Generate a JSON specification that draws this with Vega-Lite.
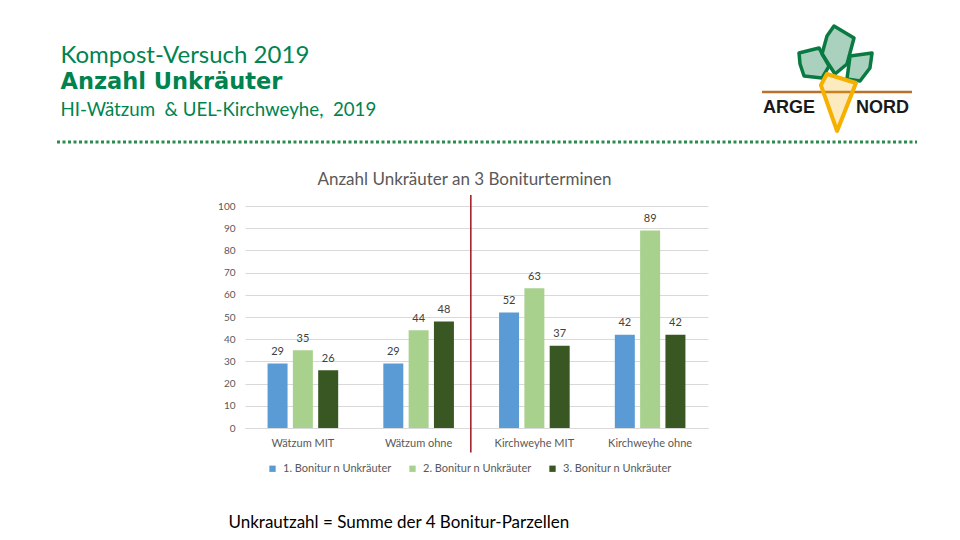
{
  "$schema": "https://vega.github.io/schema/vega-lite/v6.json",
  "background": "white",
  "padding": {"left": 55, "top": 24, "right": 45, "bottom": 10},
  "config": {
    "font": "Lato",
    "view": {"stroke": null},
    "title": {"font": "Lato", "fontWeight": "normal"},
    "axisY": {"tickCount": 11, "labelOverlap": false}
  },
  "title": {
    "text": "Kompost-Versuch 2019",
    "subtitle": "Anzahl Unkräuter",
    "anchor": "start",
    "frame": "bounds",
    "dx": 5,
    "offset": -69,
    "font": "Lato",
    "fontSize": 24,
    "fontWeight": "normal",
    "color": "#00834F",
    "subtitleFont": "DejaVu Sans",
    "subtitleFontSize": 22.5,
    "subtitleFontWeight": "bold",
    "subtitleColor": "#00834F",
    "subtitlePadding": 3
  },
  "bounds": "flush",
  "spacing": 63,
  "vconcat": [
    {
      "width": 672,
      "height": 20,
      "title": {
        "text": "HI-Wätzum\u00a0 & UEL-Kirchweyhe,\u00a0 2019",
        "anchor": "start",
        "frame": "bounds",
        "dx": 5,
        "offset": -95,
        "fontSize": 18.7,
        "color": "#00834F",
        "fontWeight": "normal"
      },
      "data": {"values": [{}]},
      "layer": [
        {
          "mark": {"type": "rule", "strokeDash": [3, 2.5], "strokeWidth": 3, "color": "#2B8A4E"},
          "encoding": {
            "x": {"datum": 55, "type": "quantitative", "scale": {"domain": [243, 915], "nice": false, "zero": false}, "axis": null},
            "x2": {"datum": 915},
            "y": {"datum": 141, "type": "quantitative", "scale": {"domain": [142, 122], "nice": false, "zero": false}, "axis": null}
          }
        },
        {
          "mark": {"type": "rule", "strokeWidth": 2.5, "color": "#B8722C"},
          "encoding": {
            "x": {"datum": 760, "type": "quantitative", "axis": null},
            "x2": {"datum": 910},
            "y": {"datum": 91, "type": "quantitative", "axis": null}
          }
        },
        {
          "mark": {"type": "point", "shape": "M-0.875,-0.625L0.375,-0.94L1,0.19L0.56,0.94L-0.56,0.81L-0.81,0.06Z", "filled": true, "opacity": 1, "fill": "#0A7A43", "fillOpacity": 0.35, "stroke": "#0A7A43", "strokeWidth": 3.5, "strokeJoin": "round", "size": 1024},
          "encoding": {
            "x": {"datum": 811, "type": "quantitative", "axis": null},
            "y": {"datum": 62, "type": "quantitative", "axis": null}
          }
        },
        {
          "mark": {"type": "point", "shape": "M-0.16,-0.96L0.64,-0.48L0.36,0.56L-0.12,0.96L-0.64,0.16L-0.44,-0.56Z", "filled": true, "opacity": 1, "fill": "#0A7A43", "fillOpacity": 0.35, "stroke": "#0A7A43", "strokeWidth": 3.5, "strokeJoin": "round", "size": 2500},
          "encoding": {
            "x": {"datum": 836, "type": "quantitative", "axis": null},
            "y": {"datum": 49, "type": "quantitative", "axis": null}
          }
        },
        {
          "mark": {"type": "point", "shape": "M-0.71,-0.79L0.86,-1L0.71,0.07L0,1L-0.93,0.86Z", "filled": true, "opacity": 1, "fill": "#0A7A43", "fillOpacity": 0.35, "stroke": "#0A7A43", "strokeWidth": 3.5, "strokeJoin": "round", "size": 784},
          "encoding": {
            "x": {"datum": 858, "type": "quantitative", "axis": null},
            "y": {"datum": 66, "type": "quantitative", "axis": null}
          }
        },
        {
          "mark": {"type": "point", "shape": "M-0.37,-0.9L0.6,-0.6L-0.03,1L-0.57,-0.53Z", "filled": true, "opacity": 1, "fill": "#F5B000", "fillOpacity": 0.25, "stroke": "#F5B000", "strokeWidth": 4, "strokeJoin": "round", "size": 3600},
          "encoding": {
            "x": {"datum": 836, "type": "quantitative", "axis": null},
            "y": {"datum": 100, "type": "quantitative", "axis": null}
          }
        },
        {
          "mark": {"type": "text", "font": "Liberation Sans", "fontWeight": "bold", "fontSize": 18, "align": "left", "baseline": "alphabetic", "color": "#1A1A1A"},
          "encoding": {
            "x": {"datum": 761, "type": "quantitative", "axis": null},
            "y": {"datum": 112, "type": "quantitative", "axis": null},
            "text": {"value": "ARGE"}
          }
        },
        {
          "mark": {"type": "text", "font": "Liberation Sans", "fontWeight": "bold", "fontSize": 18, "align": "left", "baseline": "alphabetic", "color": "#1A1A1A"},
          "encoding": {
            "x": {"datum": 854, "type": "quantitative", "axis": null},
            "y": {"datum": 112, "type": "quantitative", "axis": null},
            "text": {"value": "NORD"}
          }
        }
      ]
    },
    {
      "width": 463,
      "height": 222,
      "title": {
        "text": "Anzahl Unkräuter an 3 Boniturterminen",
        "anchor": "middle",
        "dx": -12,
        "offset": 5,
        "fontSize": 17,
        "color": "#595959",
        "fontWeight": "normal"
      },
      "data": {
        "values": [
          {"Standort": "Wätzum MIT", "Bonitur": "1. Bonitur n Unkräuter", "n": 29},
          {"Standort": "Wätzum MIT", "Bonitur": "2. Bonitur n Unkräuter", "n": 35},
          {"Standort": "Wätzum MIT", "Bonitur": "3. Bonitur n Unkräuter", "n": 26},
          {"Standort": "Wätzum ohne", "Bonitur": "1. Bonitur n Unkräuter", "n": 29},
          {"Standort": "Wätzum ohne", "Bonitur": "2. Bonitur n Unkräuter", "n": 44},
          {"Standort": "Wätzum ohne", "Bonitur": "3. Bonitur n Unkräuter", "n": 48},
          {"Standort": "Kirchweyhe MIT", "Bonitur": "1. Bonitur n Unkräuter", "n": 52},
          {"Standort": "Kirchweyhe MIT", "Bonitur": "2. Bonitur n Unkräuter", "n": 63},
          {"Standort": "Kirchweyhe MIT", "Bonitur": "3. Bonitur n Unkräuter", "n": 37},
          {"Standort": "Kirchweyhe ohne", "Bonitur": "1. Bonitur n Unkräuter", "n": 42},
          {"Standort": "Kirchweyhe ohne", "Bonitur": "2. Bonitur n Unkräuter", "n": 89},
          {"Standort": "Kirchweyhe ohne", "Bonitur": "3. Bonitur n Unkräuter", "n": 42}
        ]
      },
      "layer": [
        {
          "mark": {"type": "bar"},
          "encoding": {
            "x": {
              "field": "Standort",
              "type": "nominal",
              "scale": {"domain": ["Wätzum MIT", "Wätzum ohne", "Kirchweyhe MIT", "Kirchweyhe ohne"], "paddingInner": 0.39, "paddingOuter": 0.195},
              "axis": {
                "title": "Unkrautzahl = Summe der 4 Bonitur-Parzellen",
                "titleX": -17,
                "titleY": 99,
                "titleAlign": "left",
                "titleBaseline": "alphabetic",
                "titleFont": "Lato",
                "titleFontSize": 17,
                "titleFontWeight": "normal",
                "titleColor": "#000000",
                "labelAngle": 0,
                "labelFontSize": 11,
                "labelColor": "#595959",
                "labelPadding": 9,
                "ticks": false,
                "domainColor": "#D9D9D9",
                "grid": false
              }
            },
            "xOffset": {"field": "Bonitur", "type": "nominal", "scale": {"paddingInner": 0.21, "paddingOuter": 0}},
            "y": {
              "field": "n",
              "type": "quantitative",
              "scale": {"domain": [0, 100], "nice": false},
              "axis": {
                "title": null,
                "values": [0, 10, 20, 30, 40, 50, 60, 70, 80, 90, 100],
                "tickCount": 11,
                "labelOverlap": false,
                "grid": true,
                "gridColor": "#D9D9D9",
                "domain": false,
                "ticks": false,
                "labelFontSize": 10,
                "labelColor": "#595959",
                "labelPadding": 10
              }
            },
            "color": {
              "field": "Bonitur",
              "type": "nominal",
              "scale": {"range": ["#5B9BD5", "#A9D18E", "#385723"]},
              "legend": {
                "title": null,
                "orient": "none",
                "direction": "horizontal",
                "legendX": 22,
                "legendY": 340,
                "padding": 0,
                "symbolType": "square",
                "symbolSize": 40,
                "symbolStrokeWidth": 0,
                "labelFontSize": 11,
                "labelColor": "#595959",
                "labelOffset": 5,
                "columnPadding": 15
              }
            }
          }
        },
        {
          "mark": {"type": "text", "baseline": "alphabetic", "dy": -8.5, "fontSize": 11, "color": "#404040"},
          "encoding": {
            "x": {"field": "Standort", "type": "nominal"},
            "xOffset": {"field": "Bonitur", "type": "nominal"},
            "y": {
              "field": "n",
              "type": "quantitative",
              "axis": {
                "title": null,
                "values": [0, 10, 20, 30, 40, 50, 60, 70, 80, 90, 100],
                "tickCount": 11,
                "labelOverlap": false,
                "grid": true,
                "gridColor": "#D9D9D9",
                "domain": false,
                "ticks": false,
                "labelFontSize": 10,
                "labelColor": "#595959",
                "labelPadding": 10
              }
            },
            "text": {"field": "n", "type": "quantitative"}
          }
        },
        {
          "data": {"values": [{}]},
          "mark": {"type": "rule", "color": "#A0141E", "strokeWidth": 1.5},
          "encoding": {
            "x": {"datum": "Kirchweyhe MIT", "bandPosition": -0.4},
            "y": {
              "datum": 105,
              "type": "quantitative",
              "axis": {
                "title": null,
                "values": [0, 10, 20, 30, 40, 50, 60, 70, 80, 90, 100],
                "tickCount": 11,
                "labelOverlap": false,
                "grid": true,
                "gridColor": "#D9D9D9",
                "domain": false,
                "ticks": false,
                "labelFontSize": 10,
                "labelColor": "#595959",
                "labelPadding": 10
              }
            },
            "y2": {"datum": -11}
          }
        }
      ]
    }
  ]
}
